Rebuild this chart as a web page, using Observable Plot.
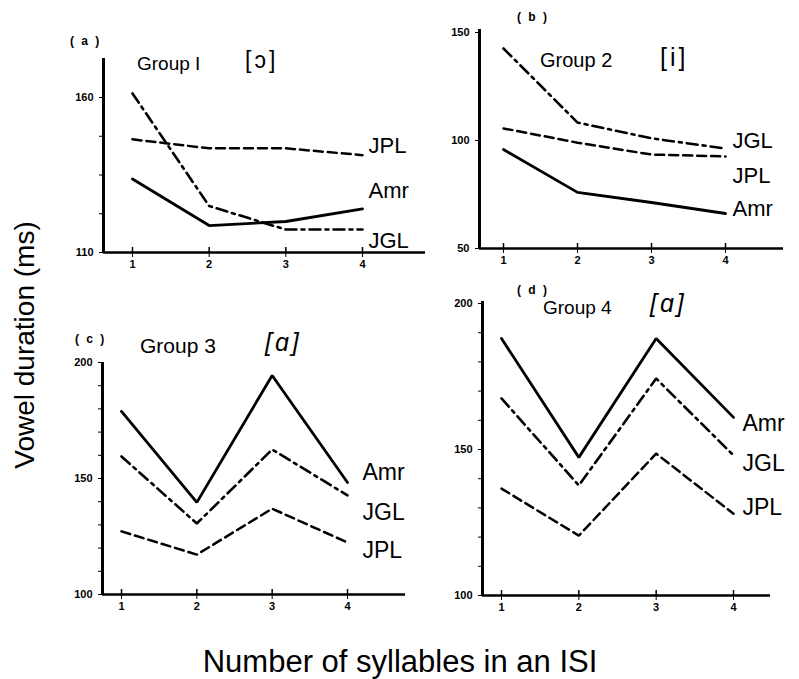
<!DOCTYPE html>
<html><head><meta charset="utf-8">
<script src="https://cdn.jsdelivr.net/npm/d3@7"></script>
<script src="https://cdn.jsdelivr.net/npm/@observablehq/plot@0.6"></script>
<style>
body{margin:0;background:#fff;}
#fig{position:relative;width:799px;height:679px;font-family:"Liberation Sans",Arial,sans-serif;overflow:hidden;background:#fff;}
.p{position:absolute;overflow:visible;}
.t{position:absolute;white-space:nowrap;color:#000;line-height:1;}
</style></head><body><div id="fig"></div>
<script>
// ---- data ----
const syllables = [1, 2, 3, 4];
const seriesNames = ["Amr", "JGL", "JPL"];
const panelTags = ["( a )", "( b )", "( c )", "( d )"];
const groupNames = ["Group I", "Group 2", "Group 3", "Group 4"];
const vowels = ["[ɔ]", "[i]", "[ɑ]", "[ɑ]"];
const yTitle = "Vowel duration (ms)";
const xTitle = "Number of syllables in an ISI";

// Group 1 [ɔ]
const g1Amr = [133.7, 118.7, 120.0, 124.1];
const g1JGL = [161.3, 125.0, 117.4, 117.4];
const g1JPL = [146.5, 143.6, 143.6, 141.4];
// Group 2 [i]
const g2Amr = [95.8, 76.0, 71.3, 66.2];
const g2JGL = [142.6, 108.3, 101.0, 96.3];
const g2JPL = [105.6, 99.0, 93.5, 92.6];
// Group 3 [ɑ]
const g3Amr = [178.9, 139.7, 194.4, 148.3];
const g3JGL = [159.5, 130.6, 162.5, 142.7];
const g3JPL = [127.2, 117.2, 137.0, 122.4];
// Group 4 [ɑ]
const g4Amr = [188.0, 147.3, 188.0, 161.0];
const g4JGL = [167.5, 137.7, 174.3, 148.0];
const g4JPL = [136.6, 120.5, 148.6, 128.0];

// y tick values and which are labelled
const g1Ticks = [110, 122.5, 135, 147.5, 160];
const g1TickLabels = [110, 160];
const g2Ticks = [50, 100, 150];
const g2TickLabels = [50, 100, 150];
const g3Ticks = [100, 110, 120, 130, 140, 150, 160, 170, 180, 190, 200];
const g3TickLabels = [100, 150, 200];
const g4Ticks = [100, 110, 120, 130, 140, 150, 160, 170, 180, 190, 200];
const g4TickLabels = [100, 150, 200];

const panelSeries = [
  {Amr: g1Amr, JGL: g1JGL, JPL: g1JPL},
  {Amr: g2Amr, JGL: g2JGL, JPL: g2JPL},
  {Amr: g3Amr, JGL: g3JGL, JPL: g3JPL},
  {Amr: g4Amr, JGL: g4JGL, JPL: g4JPL}
];
const panelTicks = [[g1Ticks, g1TickLabels], [g2Ticks, g2TickLabels], [g3Ticks, g3TickLabels], [g4Ticks, g4TickLabels]];

// ---- layout (pixels on the page) ----
const layout = [
  {ax:103, ay:252, top:58, right:425, t1:132, t4:362, vBottom:110, vRef:160, pRef:97, dx:6, dy:{JPL:-9, Amr:-18, JGL:11}, lab:22,
   tag:[70,41], grp:[137,63,19], vow:[245,60,23,"normal"]},
  {ax:479, ay:248, top:29, right:783, t1:503, t4:725, vBottom:50, vRef:150, pRef:32, dx:7, dy:{JGL:-8, JPL:19, Amr:-5}, lab:22,
   tag:[517,17], grp:[540,60,20], vow:[660,57,25,"normal"]},
  {ax:102, ay:594, top:362, right:405, t1:121, t4:347, vBottom:100, vRef:200, pRef:362, dx:15, dy:{Amr:-10, JGL:17, JPL:8}, lab:23,
   tag:[75,339], grp:[140,345,21], vow:[265,342,25,"italic"]},
  {ax:482, ay:595, top:301, right:770, t1:501, t4:733, vBottom:100, vRef:200, pRef:303, dx:9, dy:{Amr:6, JGL:8, JPL:-6}, lab:23,
   tag:[517,290], grp:[543,307,19], vow:[650,303,25,"italic"]}
];
const styles = {
  Amr: {strokeWidth: 2.8},
  JGL: {strokeWidth: 2.6, strokeDasharray: "11,5,3,5"},
  JPL: {strokeWidth: 2.5, strokeDasharray: "9,5"}
};

const fig = document.getElementById("fig");
const ML = 45, MR = 45, MT = 8, MB = 30;

function addText(txt, x, y, size, extra) {
  const d = document.createElement("div");
  d.className = "t";
  d.textContent = txt;
  d.style.left = x + "px";
  d.style.top = (y - size / 2) + "px";
  d.style.fontSize = size + "px";
  Object.assign(d.style, extra || {});
  fig.appendChild(d);
  return d;
}

layout.forEach((L, i) => {
  const k = (L.ay - L.pRef) / (L.vRef - L.vBottom);
  const vTop = L.vBottom + (L.ay - L.top) / k;
  const u = (L.t4 - L.t1) / 3;
  const x0 = 1 - (L.t1 - L.ax) / u;
  const x1 = 4 + (L.right - L.t4) / u;
  const [ticks, tickLabels] = panelTicks[i];
  const width = (L.right - L.ax) + ML + MR;
  const height = (L.ay - L.top) + MT + MB;
  const S = panelSeries[i];
  const marks = [];
  for (const s of seriesNames) {
    const rows = syllables.map((n, j) => ({n, v: S[s][j], s}));
    marks.push(Plot.line(rows, {x: "n", y: "v", stroke: "#000", strokeLinejoin: "miter", ...styles[s]}));
    marks.push(Plot.text([rows[3]], {x: "n", y: "v", text: "s", dx: L.dx, dy: L.dy[s], textAnchor: "start",
      fontSize: L.lab, fill: "#000", letterSpacing: "1.5px"}));
  }
  marks.push(Plot.ruleX([x0], {y1: L.vBottom, y2: vTop, strokeWidth: 3, stroke: "#000"}));
  marks.push(Plot.ruleY([L.vBottom], {x1: x0, x2: x1, strokeWidth: 2.5, stroke: "#000"}));
  marks.push(Plot.axisY({ticks, label: null, tickSize: 4, tickPadding: 6, fontSize: 11, fontWeight: "bold",
    tickFormat: d => tickLabels.includes(d) ? String(d) : ""}));
  marks.push(Plot.axisX({ticks: syllables, label: null, tickSize: 5, tickPadding: 3, fontSize: 11, fontWeight: "bold", tickFormat: d => String(d)}));
  marks.push(Plot.ruleX(syllables, {x: d => d, y1: L.vBottom, y2: L.vBottom + 5 / k, strokeWidth: 1.5, stroke: "#000"}));

  const chart = Plot.plot({
    width, height,
    marginLeft: ML, marginRight: MR, marginTop: MT, marginBottom: MB,
    x: {domain: [x0, x1], label: null},
    y: {domain: [L.vBottom, vTop], label: null},
    style: {fontFamily: "Liberation Sans, Arial, sans-serif", color: "#000", background: "transparent", overflow: "visible"},
    marks
  });
  chart.classList.add("p");
  chart.style.left = (L.ax - ML) + "px";
  chart.style.top = (L.top - MT) + "px";
  chart.style.maxWidth = "none";
  fig.appendChild(chart);

  addText(panelTags[i], L.tag[0], L.tag[1], 12, {fontWeight: "bold", whiteSpace: "pre", letterSpacing: "2px"});
  addText(groupNames[i], L.grp[0], L.grp[1], L.grp[2], {});
  addText(vowels[i], L.vow[0], L.vow[1], L.vow[2], {fontStyle: L.vow[3], letterSpacing: "3px"});
});

// axis titles
const yt = addText(yTitle, 25, 345, 28, {transform: "translate(-50%,0) rotate(-90deg)", transformOrigin: "50% 50%"});
yt.style.left = "25px";
yt.style.top = (345 - 14) + "px";
addText(xTitle, 400, 661, 31, {transform: "translateX(-50%)"});
</script>
</body></html>
